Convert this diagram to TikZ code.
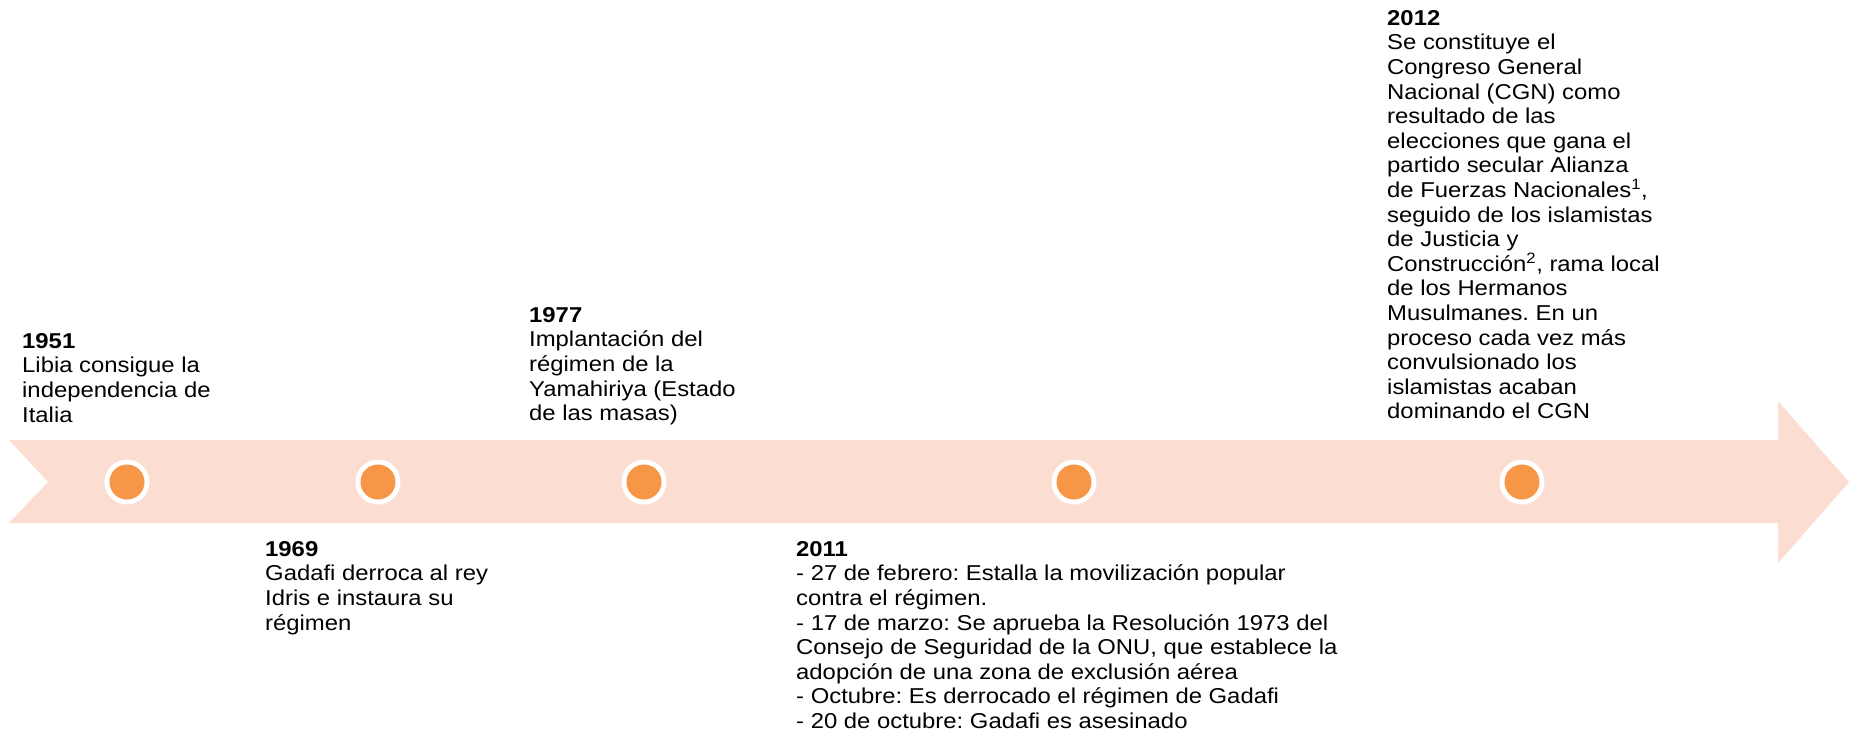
\documentclass[tikz,border=0pt]{standalone}
\usepackage{fontspec}
\setmainfont{Liberation Sans}[FakeStretch=1.11]
\frenchspacing
\definecolor{band}{HTML}{FCDDD1}
\definecolor{dot}{HTML}{F79646}
\tikzset{
  evt/.style={anchor=north west, inner sep=0pt, align=left, font=\fontsize{21.5}{24.6}\selectfont, text=black},
  ring/.style={circle, fill=white, minimum size=45pt, inner sep=0pt},
  core/.style={circle, fill=dot, minimum size=35pt, inner sep=0pt}
}
\begin{document}
\begin{tikzpicture}[x=1pt,y=-1pt]
\useasboundingbox (0,0) rectangle (1849,734);
\fill[band] (9,440) -- (1778,440) -- (1778,401) -- (1849,482) -- (1778,563) -- (1778,523) -- (9,523) -- (48,482) -- cycle;
\foreach \n/\x in {a/127,b/378,c/644,d/1074,e/1522}{
  \node[ring] (r\n) at (\x,482) {};
  \node[core] (c\n) at (\x,482) {};
}
\node[evt] (t1951) at (22,333) {\textbf{1951}\\Libia consigue la\\independencia de\\Italia};
\node[evt] (t1969) at (265,541) {\textbf{1969}\\Gadafi derroca al rey\\Idris e instaura su\\régimen};
\node[evt] (t1977) at (529,307) {\textbf{1977}\\Implantación del\\régimen de la\\Yamahiriya (Estado\\de las masas)};
\node[evt] (t2011) at (796,541) {\textbf{2011}\\- 27 de febrero: Estalla la movilización popular\\contra el régimen.\\- 17 de marzo: Se aprueba la Resolución 1973 del\\Consejo de Seguridad de la ONU, que establece la\\adopción de una zona de exclusión aérea\\- Octubre: Es derrocado el régimen de Gadafi\\- 20 de octubre: Gadafi es asesinado};
\node[evt] (t2012) at (1387,10) {\textbf{2012}\\Se constituye el\\Congreso General\\Nacional (CGN) como\\resultado de las\\elecciones que gana el\\partido secular Alianza\\de Fuerzas Nacionales\textsuperscript{1},\\seguido de los islamistas\\de Justicia y\\Construcción\textsuperscript{2}, rama local\\de los Hermanos\\Musulmanes. En un\\proceso cada vez más\\convulsionado los\\islamistas acaban\\dominando el CGN};
\end{tikzpicture}
\end{document}
